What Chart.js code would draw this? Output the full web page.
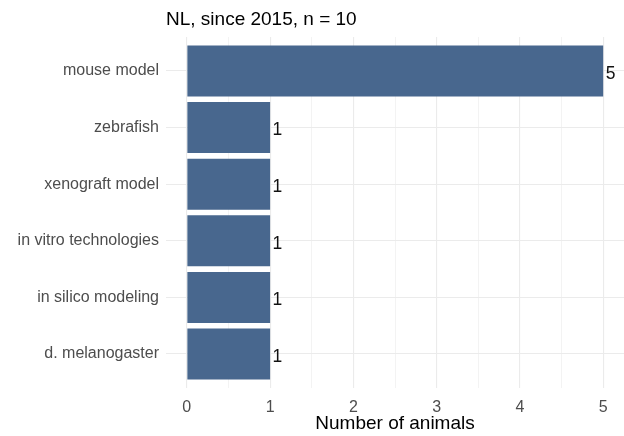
<!DOCTYPE html>
<html>
<head>
<meta charset="utf-8">
<script src="https://cdn.jsdelivr.net/npm/chart.js@4/dist/chart.umd.min.js"></script>
<style>
  html, body { margin: 0; padding: 0; background: #ffffff; }
  #chart { display: block; }
</style>
</head>
<body>
<canvas id="chart" width="624" height="436"></canvas>
<script>
// Study models used in NL publications since 2015
const categories = ['mouse model', 'zebrafish', 'xenograft model', 'in vitro technologies', 'in silico modeling', 'd. melanogaster'];
const counts = [5, 1, 1, 1, 1, 1];
const xTicks = [0, 0.5, 1, 1.5, 2, 2.5, 3, 3.5, 4, 4.5, 5];
const chartTitle = 'NL, since 2015, n = 10';
const xTitle = 'Number of animals';

const FONT = '"Liberation Sans", Arial, Helvetica, sans-serif';
const BAR = '#48678E';
const GRID = '#EBEBEB';
const GRID_MINOR = '#F3F3F3';
const TICK = '#4D4D4D';

// Value labels printed just past the end of each bar
const barValueLabels = {
  id: 'barValueLabels',
  afterDatasetsDraw(chart) {
    const ctx = chart.ctx;
    const meta = chart.getDatasetMeta(0);
    ctx.save();
    ctx.font = '17.5px ' + FONT;
    ctx.fillStyle = '#111111';
    ctx.textAlign = 'left';
    ctx.textBaseline = 'middle';
    meta.data.forEach((bar, i) => {
      ctx.fillText(String(counts[i]), bar.x + 2.5, bar.y + 3);
    });
    ctx.restore();
  }
};

new Chart(document.getElementById('chart'), {
  type: 'bar',
  data: {
    datasets: [{
      data: categories.map((c, i) => ({ x: counts[i], y: i })),
      backgroundColor: BAR,
      borderWidth: 0,
      barPercentage: 0.9,
      categoryPercentage: 1
    }]
  },
  options: {
    indexAxis: 'y',
    responsive: false,
    animation: false,
    layout: { padding: 0 },
    plugins: {
      legend: { display: false },
      tooltip: { enabled: false },
      title: {
        display: true,
        text: chartTitle,
        align: 'start',
        fullSize: false,
        color: '#000000',
        font: { family: FONT, size: 19, weight: 'normal' },
        padding: { top: 8, bottom: 6.2 }
      }
    },
    scales: {
      x: {
        type: 'linear',
        min: -0.25,
        max: 5.25,
        afterBuildTicks(scale) {
          scale.ticks = xTicks.map(v => ({ value: v }));
        },
        afterFit(scale) { scale.height = 48; },
        border: { display: false },
        grid: {
          drawTicks: false,
          color: ctx => (Number.isInteger(ctx.tick.value) ? GRID : GRID_MINOR),
          lineWidth: ctx => (Number.isInteger(ctx.tick.value) ? 1.1 : 1)
        },
        ticks: {
          autoSkip: false,
          maxRotation: 0,
          padding: 10,
          color: TICK,
          font: { family: FONT, size: 16 },
          callback: v => (Number.isInteger(v) ? String(v) : '')
        },
        title: {
          display: true,
          text: xTitle,
          color: '#000000',
          font: { family: FONT, size: 19 },
          padding: { top: 0, bottom: 1.2 }
        }
      },
      y: {
        type: 'linear',
        reverse: true,
        offset: false,
        min: -0.6,
        max: categories.length - 1 + 0.6,
        afterBuildTicks(scale) {
          scale.ticks = categories.map((c, i) => ({ value: i }));
        },
        afterFit(scale) { scale.width = 166; },
        border: { display: false },
        grid: { offset: false, drawTicks: false, color: GRID, lineWidth: 1.1 },
        ticks: {
          autoSkip: false,
          padding: 7,
          color: TICK,
          font: { family: FONT, size: 16 },
          callback: v => categories[v]
        }
      }
    }
  },
  plugins: [barValueLabels]
});
</script>
</body>
</html>
